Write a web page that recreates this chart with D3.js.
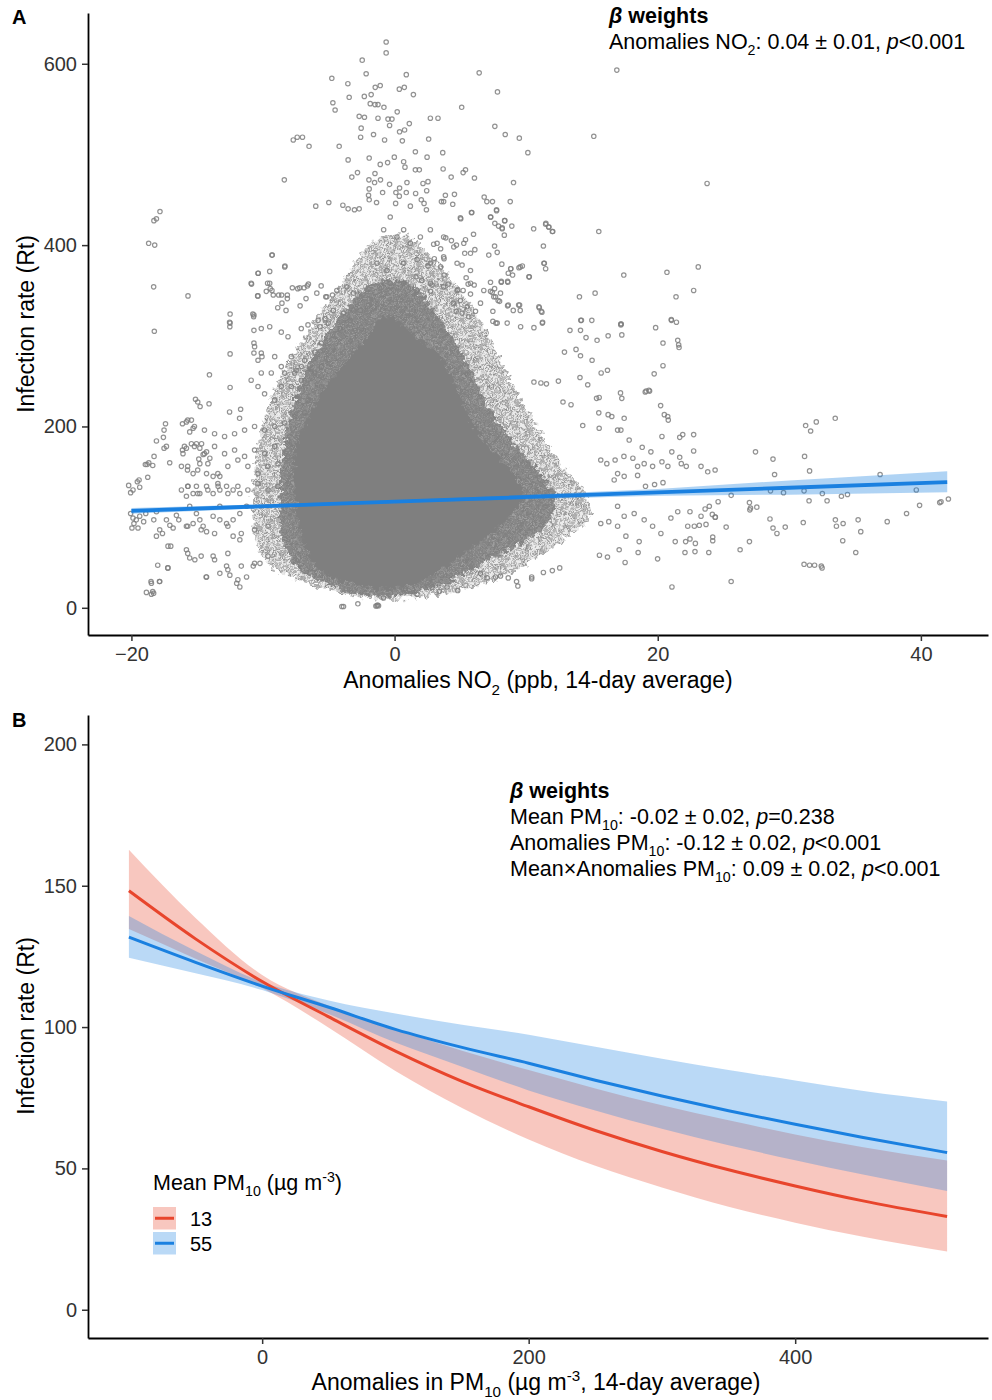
<!DOCTYPE html>
<html>
<head>
<meta charset="utf-8">
<script src="https://cdn.jsdelivr.net/npm/d3@7"></script>
<style>
  body { margin: 0; background: #fff; }
  text { font-family: "Liberation Sans", Arial, sans-serif; fill: #000; }
  .tick text { fill: #333; }
</style>
</head>
<body>
<script>

/* ==== Panel A data: NO2 anomalies vs Rt ==== */

// regression fit + 95% band
var no2LineX  = [-20, 0, 20, 30, 42];
var no2LineY  = [106.9, 117.1, 127.3, 132.4, 138.5];
var no2LineLo = [103.8, 115.8, 123.6, 124.8, 127.5];
var no2LineHi = [110.0, 118.4, 131.0, 140.5, 150.5];

// outline of the solid (fully overplotted) core of the scatter
var densityCore = [[-0.86,320],[0.43,315],[1.8,297],[3.25,281],[4.62,246],[5.77,207],[7.29,174],[8.82,152],[9.73,127],
  [8.43,97],[5.39,61],[3.25,39],[1.2,25],[-0.33,20],[-2.23,23],[-4.52,33],[-5.89,45],[-6.96,75],[-7.57,130],
  [-7.57,171],[-6.65,207],[-5.13,244],[-3.38,276],[-2.08,298]];
// heavily overplotted ring around the core
var densityMid = [[-1.09,361],[0.82,359],[2.72,334],[4.24,301],[5.77,262],[7.29,218],[9.2,180],[11.1,147],[12.24,119],
  [11.48,91],[9.2,69],[6.53,47],[3.48,25],[0.43,14],[-2.23,14],[-4.9,25],[-7.18,42],[-8.48,75],[-8.71,130],
  [-8.33,185],[-7.34,240],[-5.66,290],[-3.76,328],[-2.46,350]];
// moderately overplotted outer ring
var densityOuter = [[-1.47,405],[0.82,411],[2.72,389],[4.62,356],[6.53,317],[8.05,273],[9.58,229],[11.48,185],[13.0,152],
  [14.53,125],[14.91,102],[13.39,80],[11.1,58],[8.43,36],[5.77,22],[2.72,13],[0.05,9],[-2.61,11],[-4.9,20],
  [-7.57,31],[-9.47,47],[-10.61,75],[-10.84,119],[-10.39,174],[-9.47,229],[-7.95,273],[-6.04,317],[-4.14,356],[-2.77,386]];

// individually visible points [NO2 anomaly, Rt]
var no2Points = [
 [-0.64,624],[-0.64,612],[-2.46,604],[-2.16,589],[0.89,588],[-4.77,584],[-3.55,578],[-1.47,574],[-1.09,576],[0.36,572],
 [0.74,574],[1.43,566],[-3.45,563],[-2.3,564],[-1.78,566],[-4.69,557],[-4.52,549],[-1.85,556],[-1.49,555],[-1.26,555],
 [-0.81,552],[0.2,547],[-2.69,542],[-2.29,541],[-1.26,540],[-0.5,539],[-0.2,539],[-0.38,532],[2.72,540],[3.3,540],
 [5.1,552],[6.43,590],[7.82,569],[1.12,534],[0.76,527],[0.38,525],[-2.54,529],[-2.58,519],[-1.6,522],[-0.76,516],
 [0.59,515],[-4.21,509],[2.59,517],[7.62,531],[-7.7,516],[-7.4,519],[-7.0,519],[-6.5,509],[1.58,503],[-1.93,496],
 [-1.09,489],[-0.53,491],[-0.02,497],[-3.53,494],[0.69,492],[0.79,486],[1.58,483],[1.88,483],[2.47,497],[3.66,502],
 [3.69,484],[5.39,483],[5.21,480],[6.07,474],[4.3,475],[-3.25,475],[-2.82,480],[-1.49,479],[-1.52,469],[-1.07,472],
 [-1.95,472],[-1.93,462],[-1.98,455],[-0.38,467],[0.38,463],[0.94,469],[2.16,468],[2.54,470],[2.44,460],[-8.38,472],
 [-5.99,443],[-5.0,447],[-3.93,444],[-3.53,440],[-3.05,439],[-2.69,440],[-1.93,450],[-1.37,447],[-0.91,458],[0.1,458],
 [0.36,454],[0.08,446],[0.89,458],[1.2,443],[1.6,457],[2.03,450],[2.24,446],[2.42,439],[3.56,448],[3.73,448],
 [4.42,445],[3.86,455],[4.55,456],[6.81,453],[7.01,448],[7.44,448],[5.87,436],[5.03,429],[7.31,431],[7.75,439],
 [4.32,405],[3.89,408],[4.7,400],[5.39,406],[6.0,412],[6.1,395],[5.33,391],[7.6,399],[7.16,389],[2.97,401],
 [3.5,396],[3.76,385],[3.02,385],[5.13,378],[3.5,376],[2.54,377],[1.63,365],[2.06,361],[2.85,356],[3.76,367],
 [4.09,357],[4.8,351],[5.21,350],[5.44,364],[5.59,357],[6.05,356],[6.53,336],[5.77,346],[5.52,332],[6.15,327],
 [7.29,349],[7.54,343],[7.8,314],[4.47,336],[5.0,339],[4.68,327],[5.13,325],[5.64,321],[2.74,349],[-9.3,389],
 [-8.33,377],[-10.36,369],[-10.87,357],[-10.41,344],[-9.65,358],[-9.45,352],[-9.75,349],[-9.22,345],[-8.58,345],[-8.15,345],
 [-7.77,353],[-7.36,352],[-6.88,353],[-6.55,357],[-6.73,341],[-7.18,333],[-8.88,331],[-8.25,328],[-8.56,336],[-5.58,355],
 [-5.23,343],[-4.72,345],[-10.77,324],[-10.71,321],[-12.5,324],[-12.54,315],[-12.52,310],[-18.69,402],[-18.23,400],[-18.29,427],
 [-18.1,429],[-17.83,437],[-18.31,354],[-15.7,344],
 [16.89,593],[8.41,522],[9.48,518],[10.13,502],[15.14,520],[9.04,469],[23.75,468],[8.79,448],[7.75,438],[8.36,427],
 [8.91,421],[8.18,418],[8.34,411],[10.57,418],[11.48,423],[11.73,420],[12.02,415],[15.52,415],[7.8,392],[11.31,399],
 [8.15,379],[8.82,374],[9.55,376],[8.97,367],[10.21,365],[8.11,359],[8.61,359],[11.35,380],[11.48,374],[17.42,367],
 [20.7,370],[23.08,376],[22.73,350],[21.39,343],[14.05,343],[15.24,347],[7.42,348],[7.67,343],[7.98,338],[8.59,333],
 [9.43,334],[9.55,328],[11.0,331],[11.2,326],[21.03,318],[17.2,313],[14.15,317],[14.99,317],[11.25,315],
 [33.49,209],[31.24,201],[31.62,195],[32.05,205],[27.43,172],[31.16,167],[28.76,164],[31.54,151],[28.88,147],[36.9,147],
 [39.65,130],[42.09,120],[41.43,116],[41.53,117],[39.9,113],[38.91,104],[37.44,95],[34.42,125],[33.96,123],[32.87,118],
 [32.51,126],[31.5,118],[31.12,129],[29.56,127],[28.57,129],[33.5,97],[34.09,93],[35.23,97],[35.43,84],[33.58,90],
 [34.06,74],[35.05,61],[31.12,48],[31.54,47],[31.92,47],[32.43,46],[32.49,44],[31.06,94],[28.53,98],[28.76,88],
 [29.06,82],[29.69,89],[26.97,116],[27.05,110],[27.53,111],[27.0,108],[26.97,73],[26.26,64],[25.58,29],[25.58,124],
 [25.2,89],[24.15,103],[24.38,100],[23.88,61],[24.18,74],[21.08,23],[19.99,54],[22.83,62],[22.07,61],[21.33,73],
 [22.12,73],[22.86,71],[22.45,76],[24.18,78],[21.0,99],[21.52,106],[22.45,106],[23.29,101],[23.6,109],[23.92,112],
 [24.59,117],[24.36,100],[22.78,90],[23.16,91],[23.67,92],[22.28,90],[23.29,156],[23.8,150],[24.36,152],[22.73,173],
 [21.67,166],[21.79,159],[22.17,156],[21.07,172],[20.77,156],[20.32,189],[21.9,191],[22.73,191],[21.67,188],[20.5,213],
 [20.76,211],[20.8,207],[20.22,223],[19.73,258],[20.4,267],[20.4,292],[19.05,238],[19.38,239],[21.52,295],[21.59,290],
 [21.62,287],[21.42,315],[21.04,317],[19.84,309],[17.2,312],[17.27,301],
 [13.33,306],[14.13,306],[14.55,298],[15.39,295],[16.23,300],[13.79,285],[12.91,282],[14.13,278],[15.01,273],[15.7,259],
 [16.18,262],[14.09,254],[14.68,246],[12.45,250],[11.54,247],[11.12,248],[10.59,249],[15.35,231],[15.55,232],[17.27,231],
 [17.17,237],[19.12,239],[19.33,240],[12.8,227],[13.41,224],[14.3,201],[15.52,215],[16.23,213],[16.51,211],[16.95,196],
 [17.2,196],[17.45,209],[17.83,185],[15.55,198],[18.82,177],[19.48,172],[18.11,165],[17.43,167],[16.76,163],[16.13,159],
 [15.67,163],[18.47,156],[18.97,159],[19.61,156],[20.32,161],[20.4,138],[19.76,136],[19.07,134],[18.47,146],[17.45,145],
 [16.69,141],[16.95,148],[16.95,112],[17.45,101],[18.21,104],[18.97,97],[19.61,90],[20.24,82],[18.59,73],[17.58,79],
 [16.95,90],[16.28,95],[15.67,93],[15.57,58],[16.18,56],[17.07,64],[17.52,50],[18.51,61],[12.55,44],[11.99,41],
 [11.31,39],[10.42,32],[10.42,34],[9.37,24],[9.27,29],[8.64,33],[8.05,35],[7.67,34],[7.04,33],[6.53,38],
 [4.8,19],[3.99,23],[3.4,18],[2.85,23],[1.71,15],[0.82,21],[-0.84,11],[-1.29,3],[-1.42,2],
 [-4.01,1.4],[-3.88,1.4],[-2.79,4.4],[-1.34,2.2],[-1.22,2.2],[-18.86,17],[-18.48,15],[-18.31,16],[-18.48,27],[-17.85,29],
 [-17.01,68],[-17.22,44],[-18.0,47],[-20.21,135],[-20.06,127],[-19.88,130],[-19.55,139],[-19.37,133],[-19.42,141],[-18.76,144],
 [-18.94,158],[-18.68,160],[-18.81,158],[-18.38,157],[-18.28,167],[-18.1,184],[-17.52,176],[-17.57,188],[-17.52,196],[-17.41,203],
 [-17.09,160],[-17.34,178],[-20.06,104],[-19.88,99],[-19.63,97],[-19.37,101],[-19.07,95],[-19.81,93],[-19.96,88],[-19.5,88],
 [-18.91,104],[-18.3,97],[-18.1,106],[-17.85,86],[-18.1,79],[-17.64,82],[-17.08,91],[-16.83,88],[-17.34,97],[-16.4,97],
 [-16.58,102],[-17.22,68],
 [-16.12,203],[-15.82,205],[-15.44,207],[-15.31,198],[-15.57,194],[-16.12,174],[-16.08,170],[-15.82,176],[-15.44,181],[-15.06,181],
 [-14.8,176],[-14.67,181],[-14.55,169],[-14.88,164],[-14.29,172],[-14.04,165],[-16.2,156],[-15.74,152],[-15.31,148],[-14.8,159],
 [-14.29,148],[-13.79,145],[-13.28,145],[-13.41,134],[-14.29,134],[-15.06,134],[-15.7,134],[-16.2,130],[-15.82,123],[-15.31,126],
 [-14.8,126],[-13.79,126],[-13.28,130],[-12.77,134],[-12.27,130],[-11.76,126],[-15.57,112],[-15.06,104],[-14.8,97],[-14.55,90],
 [-14.29,84],[-13.79,101],[-13.28,97],[-12.77,93],[-12.27,97],[-11.76,104],[-11.25,112],[-15.82,90],[-15.31,93],[-13.28,112],
 [-12.27,79],[-11.76,75],[-15.82,64],[-15.57,55],[-15.18,53],[-14.29,34],[-13.79,57],[-13.28,38],[-12.77,46],[-12.52,36],
 [-12.0,27],[-11.76,23],[-11.25,34],[-10.74,46],[-10.23,49],
 [-18.26,305],[-14.07,257],[-12.5,314],[-12.5,280],[-12.5,243],[-15.13,230],[-14.96,227],[-14.1,225],[-14.78,222],[-12.54,216],
 [-11.7,219],[-11.78,209],[-10.69,323],[-10.69,306],[-10.69,292],[-10.69,281],[-10.38,273],[-10.08,277],[-10.9,358],[-10.38,344],
 [-9.49,358],[-9.32,350],[-8.81,345],[-8.15,341],[-7.21,353],[-6.63,355],[-10.38,369],[-9.49,371],[-8.35,376],[-9.32,389],
 [-10.13,308],[-9.49,310],[-8.61,304],[-8.1,299],[-7.09,308],[-6.58,312],[-5.81,317],[-5.05,314],[-10.64,288],[-10.13,281],
 [-9.11,277],[-8.61,266],[-7.85,277],[-7.47,262],[-6.83,273],[-6.06,282],[-5.56,292],[-10.9,251],[-10.38,244],[-9.88,236],
 [-9.11,229],[-8.61,244],[-7.85,244],[-7.09,251],[-6.58,229],[-5.56,244],[-10.13,259],[-9.37,259],[-8.35,259],[-7.59,259],
 [-7.09,266],[-6.06,259],[-5.56,266],[-15.72,207],[-15.21,200],[-14.45,196],[-13.68,192],[-12.92,189],[-12.16,192],[-11.4,196],
 [-10.64,200],[-9.88,196],[-9.11,200],[-8.35,204],[-7.59,211],[-6.83,215],[-15.97,178],[-15.21,178],[-14.45,170],[-13.68,178],
 [-12.92,170],[-12.16,174],[-11.4,167],[-10.64,174],[-9.88,170],[-9.11,178],[-8.1,185],[-7.34,192],[-15.72,156],[-14.96,152],
 [-14.19,159],[-13.43,148],[-12.67,156],[-11.91,163],[-11.15,156],[-10.38,148],[-9.62,156],[-8.86,159],[-8.1,167],[-15.72,134],
 [-14.96,126],[-14.19,130],[-13.43,137],[-12.67,126],[-11.91,134],[-11.15,130],[-10.38,137],[-9.62,130],[-8.86,134],[-8.1,137],
 [-15.72,90],[-14.7,86],[-13.68,82],[-12.67,90],[-11.65,82],[-10.64,86],[-9.62,90],[-15.72,60],[-14.7,57],[-13.68,53],
 [-12.67,60],[-11.65,46],[-10.64,49],[-9.62,57],[-17.24,44],[-14.32,34],[-12.67,42],[-11.91,31],[-18.38,18],[-18.51,29],
 [-17.87,29],
 [5.84,436],[5.0,430],[7.29,431],[7.62,424],[7.9,421],[8.18,419],[8.38,427],[11.5,424],[11.71,420],[11.99,415],
 [11.38,380],[10.24,365],[9.71,377],[9.45,375],[8.84,374],[8.59,360],[8.11,360],[8.64,369],[17.22,313],[14.2,317],
 [11.23,314],[10.59,309],[9.58,310],[8.56,314],[7.47,316],[7.7,314],[10.97,332],[11.15,327],[9.5,334],[8.64,334],
 [9.02,328],[7.47,327],[7.87,339],[8.05,347],[7.6,352],[7.29,359],
 [-0.33,431],[-0.83,417],[0.18,409],[0.69,417],[1.2,402],[1.96,409],[2.72,417],[3.23,402],[3.73,409],[4.5,398],
 [5.26,402],[5.77,391],[0.69,380],[1.71,384],[2.72,380],[3.73,387],[4.75,380],[5.77,372],[-0.58,372],[-1.34,380],
 [-0.33,358],[0.69,358],[1.71,350],[2.72,358],[3.73,354],[4.75,350],[5.77,358],[6.78,350],
 [-5.91,347],[-5.15,343],[-4.39,350],[-3.63,354],[-3.12,347],[-4.65,328],[-3.88,325],[-3.38,317],[-5.28,319],[-2.61,328],
 [-5.67,310],[-4.14,308],[-2.99,306]
];

var no2Ticks = [-20, 0, 20, 40];
var rtTicksA = [0, 200, 400, 600];

/* ==== Panel B data: PM10 anomalies, two levels of mean PM10 ==== */
var pmLevels = ["13", "55"];
var pmX    = [-100, -50, 0, 50, 100, 150, 200, 250, 300, 350, 400, 450, 514];
var lowFit = [148.2, 131.2, 116.1, 103.6, 91.5, 80.8, 71.8, 63.4, 56.0, 49.5, 43.8, 38.6, 33.0];
var lowLo  = [134.7, 124.2, 113.8, 99.8, 84.5, 71.4, 60.2, 50.9, 43.2, 36.4, 30.8, 25.9, 20.6];
var lowHi  = [162.7, 138.6, 118.4, 107.5, 99.2, 91.6, 84.8, 78.3, 72.3, 67.0, 62.0, 57.6, 52.8];
var highFit = [131.8, 122.9, 114.5, 107.0, 99.2, 92.8, 87.2, 81.2, 75.6, 70.4, 65.6, 61.0, 55.6];
var highLo  = [124.5, 119.0, 113.1, 104.6, 94.5, 86.0, 77.6, 70.5, 64.0, 58.2, 52.9, 47.9, 42.0];
var highHi  = [139.3, 126.9, 115.9, 109.4, 104.8, 100.8, 97.3, 93.0, 88.8, 84.8, 81.1, 77.5, 73.7];
var pmTicks = [0, 200, 400];
var rtTicksB = [0, 50, 100, 150, 200];

var red = "#e8452c", blue = "#1a80e0", gray = "#7f7f7f";

/* ==== set up ==== */
var svg = d3.select("body").append("svg")
    .attr("width", 992)
    .attr("height", 1400);

var defs = svg.append("defs");

// textures for the overplotted zones of the scatter (many open circles)
function circleTexture(id, size, spots, rot) {
    var p = defs.append("pattern")
        .attr("id", id)
        .attr("patternUnits", "userSpaceOnUse")
        .attr("width", size).attr("height", size)
        .attr("patternTransform", "rotate(" + rot + ")");
    spots.forEach(function(s){
        p.append("circle").attr("cx", s[0]).attr("cy", s[1]).attr("r", 2.2)
            .attr("fill", "none").attr("stroke", gray).attr("stroke-width", 1.1)
            .attr("stroke-opacity", 0.9);
    });
}
circleTexture("texLoose", 15, [[3,3],[10,2],[13,8],[7,8.5],[2.5,12.5],[10.5,13]], 23);
circleTexture("texDense", 8, [[2,2],[6,2.5],[4,6],[7.5,6.5]], 37);

// roughen the edges of the overplotted zones so they look speckled, not cut
var rough = defs.append("filter").attr("id", "rough")
    .attr("x", "-5%").attr("y", "-5%").attr("width", "110%").attr("height", "110%");
rough.append("feTurbulence").attr("type", "fractalNoise")
    .attr("baseFrequency", 0.2).attr("numOctaves", 2).attr("seed", 7).attr("result", "noise");
rough.append("feDisplacementMap").attr("in", "SourceGraphic").attr("in2", "noise")
    .attr("scale", 12).attr("xChannelSelector", "R").attr("yChannelSelector", "G");

function richText(g, x, y, parts, size) {
    var t = g.append("text").attr("x", x).attr("y", y).style("font-size", size + "px");
    var shift = 0;
    parts.forEach(function(p){
        var s = t.append("tspan").text(p.t);
        var want = p.sub ? 0.3 * size : (p.sup ? -0.38 * size : 0);
        if (want !== shift) { s.attr("dy", want - shift); shift = want; }
        if (p.sub || p.sup) s.style("font-size", (size * 0.66) + "px");
        if (p.it) s.style("font-style", "italic");
        if (p.b) s.style("font-weight", "bold");
    });
    return t;
}

function styleAxis(g) {
    g.select(".domain").attr("stroke", "#000").attr("stroke-width", 1.8);
    g.selectAll(".tick line").attr("stroke", "#333").attr("stroke-width", 1.5);
    g.selectAll(".tick text").style("font-size", "20px");
}

/* ==== Panel A ==== */
var xA = d3.scaleLinear().domain([-23.3, 45.1]).range([88, 988]);
var yA = d3.scaleLinear().domain([-30, 656]).range([635, 13]);

var gA = svg.append("g");

var blob = d3.line()
    .x(function(d){ return xA(d[0]); })
    .y(function(d){ return yA(d[1]); })
    .curve(d3.curveCatmullRomClosed);

var dens = gA.append("g").attr("filter", "url(#rough)");
dens.append("path").attr("d", blob(densityOuter))
    .attr("fill", gray).attr("fill-opacity", 0.15);
dens.append("path").attr("d", blob(densityOuter))
    .attr("fill", "url(#texLoose)");
dens.append("path").attr("d", blob(densityMid))
    .attr("fill", gray).attr("fill-opacity", 0.7);
dens.append("path").attr("d", blob(densityMid))
    .attr("fill", "url(#texDense)");
dens.append("path").attr("d", blob(densityCore))
    .attr("fill", gray);

gA.selectAll("circle.pt")
    .data(no2Points)
    .enter().append("circle")
    .attr("class", "pt")
    .attr("cx", function(d){ return xA(d[0]); })
    .attr("cy", function(d){ return yA(d[1]); })
    .attr("r", 2.2)
    .attr("fill", "none")
    .attr("stroke", gray)
    .attr("stroke-width", 1.2)
    .attr("stroke-opacity", 0.85);

var lineDataA = no2LineX.map(function(x, i){
    return {x: x, y: no2LineY[i], lo: no2LineLo[i], hi: no2LineHi[i]};
});

gA.append("path")
    .attr("d", d3.area()
        .x(function(d){ return xA(d.x); })
        .y0(function(d){ return yA(d.lo); })
        .y1(function(d){ return yA(d.hi); })(lineDataA))
    .attr("fill", blue).attr("fill-opacity", 0.35);

gA.append("path")
    .attr("d", d3.line()
        .x(function(d){ return xA(d.x); })
        .y(function(d){ return yA(d.y); })(lineDataA))
    .attr("fill", "none").attr("stroke", blue).attr("stroke-width", 3.8);

gA.append("g").attr("transform", "translate(88,0)")
    .call(d3.axisLeft(yA).tickValues(rtTicksA).tickSize(6).tickSizeOuter(0).tickPadding(5))
    .call(styleAxis);
gA.append("g").attr("transform", "translate(0,635)")
    .call(d3.axisBottom(xA).tickValues(no2Ticks).tickSize(6).tickSizeOuter(0).tickPadding(6))
    .call(styleAxis);

richText(gA, 538, 688, [{t: "Anomalies NO"}, {t: "2", sub: true}, {t: " (ppb, 14-day average)"}], 23)
    .attr("text-anchor", "middle");
gA.append("text")
    .attr("transform", "translate(34,324) rotate(-90)")
    .attr("text-anchor", "middle")
    .style("font-size", "23px")
    .text("Infection rate (Rt)");

richText(gA, 609, 23, [{t: "β", b: true, it: true}, {t: " weights", b: true}], 21.5);
richText(gA, 609, 49, [{t: "Anomalies NO"}, {t: "2", sub: true}, {t: ": 0.04 ± 0.01, "},
    {t: "p", it: true}, {t: "<0.001"}], 21.5);

gA.append("text").attr("x", 12).attr("y", 24)
    .style("font-size", "20px").style("font-weight", "bold").text("A");

/* ==== Panel B ==== */
var xB = d3.scaleLinear().domain([-130.7, 544.7]).range([88, 988]);
var yB = d3.scaleLinear().domain([-10, 210.4]).range([1338, 715]);

var gB = svg.append("g");

var seriesB = [
    {key: pmLevels[0], color: red,  fit: lowFit,  lo: lowLo,  hi: lowHi},
    {key: pmLevels[1], color: blue, fit: highFit, lo: highLo, hi: highHi}
];

var areaB = d3.area()
    .x(function(d){ return xB(d.x); })
    .y0(function(d){ return yB(d.lo); })
    .y1(function(d){ return yB(d.hi); })
    .curve(d3.curveMonotoneX);
var lineB = d3.line()
    .x(function(d){ return xB(d.x); })
    .y(function(d){ return yB(d.y); })
    .curve(d3.curveMonotoneX);

seriesB.forEach(function(s){
    s.rows = pmX.map(function(x, i){ return {x: x, y: s.fit[i], lo: s.lo[i], hi: s.hi[i]}; });
});

gB.selectAll("path.band")
    .data(seriesB)
    .enter().append("path")
    .attr("class", "band")
    .attr("d", function(s){ return areaB(s.rows); })
    .attr("fill", function(s){ return s.color; })
    .attr("fill-opacity", 0.3);

gB.selectAll("path.fit")
    .data(seriesB)
    .enter().append("path")
    .attr("class", "fit")
    .attr("d", function(s){ return lineB(s.rows); })
    .attr("fill", "none")
    .attr("stroke", function(s){ return s.color; })
    .attr("stroke-width", 3);

gB.append("g").attr("transform", "translate(88,0)")
    .call(d3.axisLeft(yB).tickValues(rtTicksB).tickSize(6).tickSizeOuter(0).tickPadding(5))
    .call(styleAxis);
gB.append("g").attr("transform", "translate(0,1338)")
    .call(d3.axisBottom(xB).tickValues(pmTicks).tickSize(6).tickSizeOuter(0).tickPadding(6))
    .call(styleAxis);

richText(gB, 536, 1390, [{t: "Anomalies in PM"}, {t: "10", sub: true}, {t: " (µg m"},
    {t: "-3", sup: true}, {t: ", 14-day average)"}], 23)
    .attr("text-anchor", "middle");
gB.append("text")
    .attr("transform", "translate(34,1026) rotate(-90)")
    .attr("text-anchor", "middle")
    .style("font-size", "23px")
    .text("Infection rate (Rt)");

richText(gB, 510, 798, [{t: "β", b: true, it: true}, {t: " weights", b: true}], 21.5);
richText(gB, 510, 824, [{t: "Mean PM"}, {t: "10", sub: true}, {t: ": -0.02 ± 0.02, "},
    {t: "p", it: true}, {t: "=0.238"}], 21.5);
richText(gB, 510, 850, [{t: "Anomalies PM"}, {t: "10", sub: true}, {t: ": -0.12 ± 0.02, "},
    {t: "p", it: true}, {t: "<0.001"}], 21.5);
richText(gB, 510, 876, [{t: "Mean×Anomalies PM"}, {t: "10", sub: true}, {t: ": 0.09 ± 0.02, "},
    {t: "p", it: true}, {t: "<0.001"}], 21.5);

gB.append("text").attr("x", 12).attr("y", 727)
    .style("font-size", "20px").style("font-weight", "bold").text("B");

// legend
var leg = gB.append("g").attr("transform", "translate(153,1190)");
richText(leg, 0, 0, [{t: "Mean PM"}, {t: "10", sub: true}, {t: " (µg m"}, {t: "-3", sup: true}, {t: ")"}], 21.5);
var keys = leg.selectAll("g.key")
    .data(seriesB)
    .enter().append("g")
    .attr("class", "key")
    .attr("transform", function(d, i){ return "translate(0," + (17 + i * 25) + ")"; });
keys.append("rect")
    .attr("width", 23).attr("height", 22.5)
    .attr("fill", function(d){ return d.color; })
    .attr("fill-opacity", 0.3);
keys.append("line")
    .attr("x1", 2).attr("x2", 21).attr("y1", 11.25).attr("y2", 11.25)
    .attr("stroke", function(d){ return d.color; })
    .attr("stroke-width", 3);
keys.append("text")
    .attr("x", 37).attr("y", 18.5)
    .style("font-size", "20px")
    .text(function(d){ return d.key; });

</script>
</body>
</html>
